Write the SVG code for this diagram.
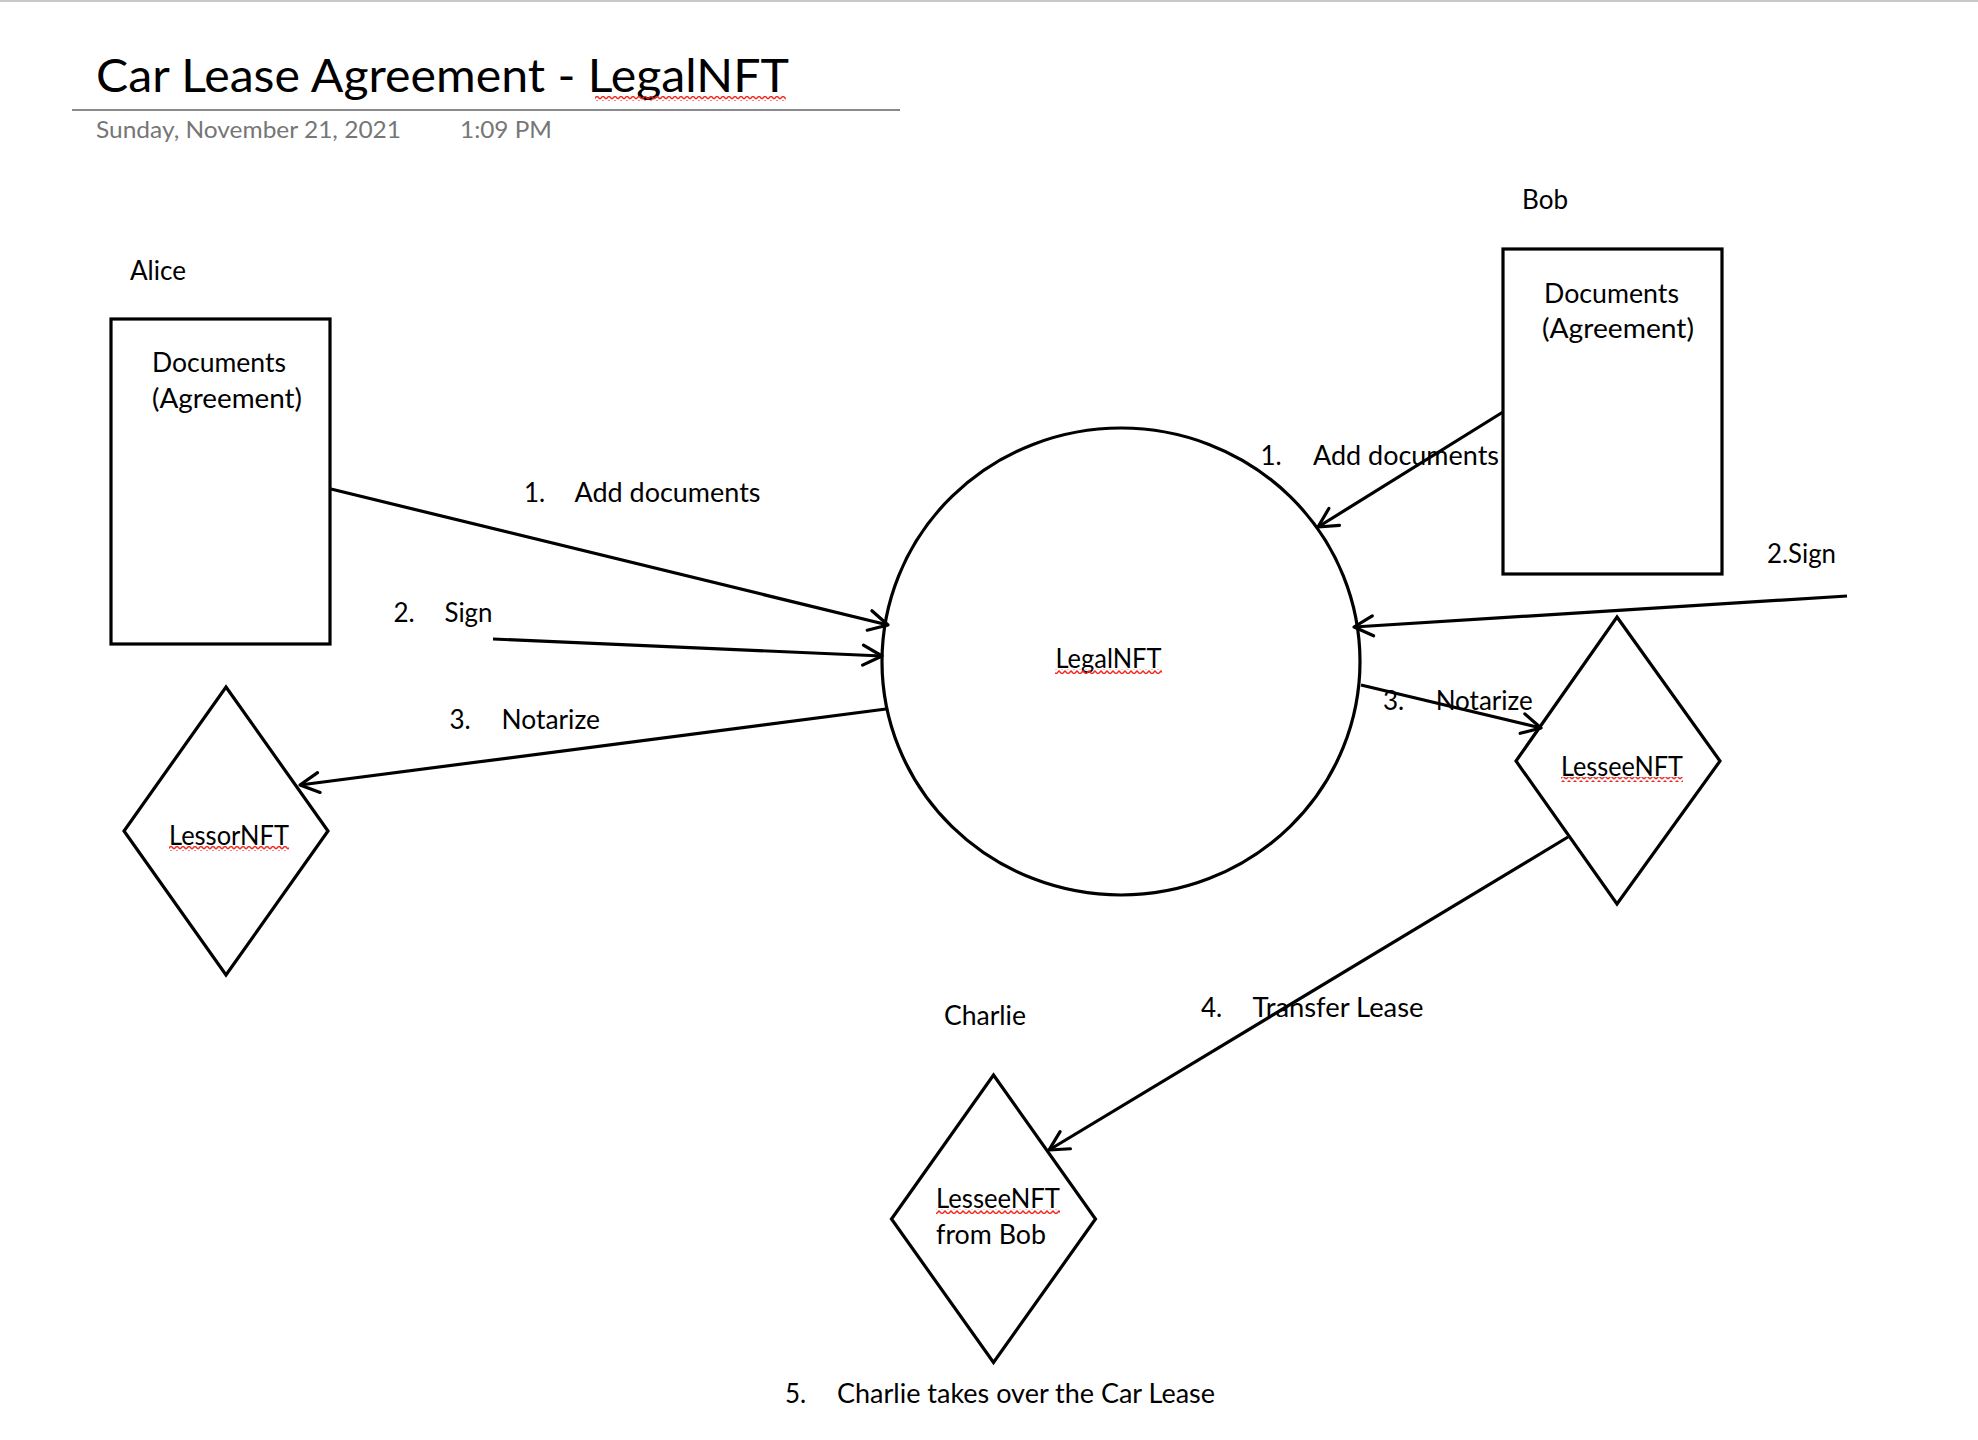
<svg xmlns="http://www.w3.org/2000/svg" width="1978" height="1440" viewBox="0 0 1978 1440">
  <style>
    .t { font-family: Lato, "Open Sans", "Liberation Sans", sans-serif; font-size: 26px; fill: #000; }
    .title { font-family: Lato, "Open Sans", "Liberation Sans", sans-serif; font-size: 47px; fill: #000; }
    .date { font-family: Lato, "Open Sans", "Liberation Sans", sans-serif; font-size: 23.5px; fill: #767676; }
    .shape { fill: none; stroke: #000; stroke-width: 3.2; stroke-linejoin: miter; }
    .conn { fill: none; stroke: #000; stroke-width: 3.2; marker-end: url(#arrow); }
    .sq { stroke: none; }
  </style>
  <defs>
    <marker id="arrow" markerUnits="userSpaceOnUse" viewBox="-24 -14 28 28" refX="0" refY="0" markerWidth="28" markerHeight="28" orient="auto">
      <path d="M-19,-10 L0,0 L-19,10" fill="none" stroke="#000" stroke-width="3.2" stroke-linecap="round" stroke-linejoin="round"/>
    </marker>
    <pattern id="squig" patternUnits="userSpaceOnUse" width="6" height="5">
      <path d="M0,4 L3,1 L6,4" fill="none" stroke="#f02a20" stroke-width="1.5"/>
    </pattern>
  </defs>

  <rect x="0" y="0" width="1978" height="1440" fill="#fff"/>
  <line x1="0" y1="1" x2="1978" y2="1" stroke="#c8c8c8" stroke-width="2"/>

  <g id="header">
    <text class="title" x="96" y="92" textLength="693" lengthAdjust="spacingAndGlyphs">Car Lease Agreement - LegalNFT</text>
    <rect class="sq" x="595" y="96" width="191" height="5" fill="url(#squig)"/>
    <line x1="72" y1="110" x2="900" y2="110" stroke="#8a8a8a" stroke-width="2"/>
    <text class="date" x="96" y="138" textLength="305" lengthAdjust="spacingAndGlyphs">Sunday, November 21, 2021</text>
    <text class="date" x="460" y="138" textLength="92" lengthAdjust="spacingAndGlyphs">1:09 PM</text>
  </g>

  <g id="alice-documents">
    <text class="t" x="130" y="280" textLength="56" lengthAdjust="spacingAndGlyphs">Alice</text>
    <rect class="shape" x="111" y="319" width="219" height="325"/>
    <text class="t" x="152" y="372" textLength="134" lengthAdjust="spacingAndGlyphs">Documents</text>
    <text class="t" x="152" y="408" textLength="150" lengthAdjust="spacingAndGlyphs">(Agreement)</text>
  </g>

  <g id="bob-documents">
    <text class="t" x="1522" y="209" textLength="46" lengthAdjust="spacingAndGlyphs">Bob</text>
    <rect class="shape" x="1503" y="249" width="219" height="325"/>
    <text class="t" x="1544" y="303" textLength="135" lengthAdjust="spacingAndGlyphs">Documents</text>
    <text class="t" x="1542" y="338" textLength="152" lengthAdjust="spacingAndGlyphs">(Agreement)</text>
  </g>

  <g id="legalnft">
    <ellipse class="shape" cx="1121" cy="661.5" rx="239" ry="233.5"/>
    <text class="t" x="1055.5" y="668" textLength="106" lengthAdjust="spacingAndGlyphs">LegalNFT</text>
    <rect class="sq" x="1055" y="669" width="107" height="5" fill="url(#squig)"/>
  </g>

  <g id="lessornft">
    <polygon class="shape" points="226,687 328,831 226,975 124,831"/>
    <text class="t" x="169" y="845" textLength="120" lengthAdjust="spacingAndGlyphs">LessorNFT</text>
    <rect class="sq" x="169" y="846" width="120" height="5" fill="url(#squig)"/>
  </g>

  <g id="lesseenft">
    <polygon class="shape" points="1617,617 1720,761 1617,904 1516,761"/>
    <text class="t" x="1561" y="776" textLength="122" lengthAdjust="spacingAndGlyphs">LesseeNFT</text>
    <rect class="sq" x="1561" y="777" width="122" height="5" fill="url(#squig)"/>
  </g>

  <g id="charlie-lesseenft">
    <text class="t" x="944" y="1025" textLength="82" lengthAdjust="spacingAndGlyphs">Charlie</text>
    <polygon class="shape" points="993.5,1075 1095.5,1219 993.5,1362.5 891.5,1219"/>
    <text class="t" x="936" y="1208" textLength="124" lengthAdjust="spacingAndGlyphs">LesseeNFT</text>
    <rect class="sq" x="936" y="1209" width="124" height="5" fill="url(#squig)"/>
    <text class="t" x="936" y="1244" textLength="110" lengthAdjust="spacingAndGlyphs">from Bob</text>
  </g>

  <g id="connectors">
    <line class="conn" x1="331" y1="489" x2="888" y2="625"/>
    <line class="conn" x1="493" y1="639" x2="882" y2="656"/>
    <line class="conn" x1="886" y1="709" x2="300" y2="785"/>
    <line class="conn" x1="1503" y1="412" x2="1318" y2="527"/>
    <line class="conn" x1="1847" y1="596" x2="1354" y2="627"/>
    <line class="conn" x1="1361" y1="685" x2="1541" y2="728"/>
    <line class="conn" x1="1568" y1="837" x2="1049" y2="1150"/>

    <text class="t" y="502"><tspan x="524">1.</tspan><tspan x="574.5" textLength="186" lengthAdjust="spacingAndGlyphs">Add documents</tspan></text>
    <text class="t" y="622"><tspan x="393.5">2.</tspan><tspan x="444.5" textLength="48" lengthAdjust="spacingAndGlyphs">Sign</tspan></text>
    <text class="t" y="729"><tspan x="449.5">3.</tspan><tspan x="501.5" textLength="98.5" lengthAdjust="spacingAndGlyphs">Notarize</tspan></text>
    <text class="t" y="465"><tspan x="1260.5">1.</tspan><tspan x="1313" textLength="186" lengthAdjust="spacingAndGlyphs">Add documents</tspan></text>
    <text class="t" x="1767" y="563" textLength="69" lengthAdjust="spacingAndGlyphs">2.Sign</text>
    <text class="t" y="710"><tspan x="1383">3.</tspan><tspan x="1435.7" textLength="97" lengthAdjust="spacingAndGlyphs">Notarize</tspan></text>
    <text class="t" y="1017"><tspan x="1201">4.</tspan><tspan x="1252.5" textLength="171" lengthAdjust="spacingAndGlyphs">Transfer Lease</tspan></text>
  </g>

  <g id="footnote">
    <text class="t" y="1403"><tspan x="785">5.</tspan><tspan x="837" textLength="378" lengthAdjust="spacingAndGlyphs">Charlie takes over the Car Lease</tspan></text>
  </g>
</svg>
